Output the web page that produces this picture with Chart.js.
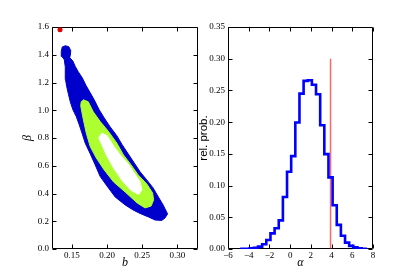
<!DOCTYPE html>
<html>
<head>
<meta charset="utf-8">
<script src="https://cdn.jsdelivr.net/npm/chart.js@4/dist/chart.umd.min.js"></script>
<style>
  body { margin: 0; background: #fff; }
  #wrap { position: relative; width: 415px; height: 277px; overflow: hidden; }
  canvas { position: absolute; top: 0; }
</style>
</head>
<body>
<div id="wrap">
  <canvas id="contornos" width="207" height="277" style="left:0"></canvas>
  <canvas id="histograma" width="225" height="277" style="left:190px"></canvas>
</div>
<script>
// contorno exterior (azul)
const bAzul = [0.1405, 0.1455, 0.1483, 0.1476, 0.1469, 0.1511, 0.1547, 0.1590, 0.1646, 0.1703, 0.1760, 0.1817, 0.1888,
  0.1959, 0.2044, 0.2139, 0.2215, 0.2300, 0.2385, 0.2470, 0.2565, 0.2655, 0.2730, 0.2797, 0.2861, 0.2825, 0.2779,
  0.2683, 0.2588, 0.2470, 0.2371, 0.2257, 0.2115, 0.1997, 0.1902, 0.1831, 0.1760, 0.1689, 0.1642, 0.1604, 0.1561,
  0.1514, 0.1476, 0.1452, 0.1426, 0.1409, 0.1405, 0.1391, 0.1358, 0.1348, 0.1362];
const betaAzul = [1.465, 1.458, 1.429, 1.400, 1.378, 1.357, 1.316, 1.277, 1.234, 1.176, 1.126, 1.075, 1.003,
  0.945, 0.880, 0.816, 0.751, 0.686, 0.621, 0.556, 0.498, 0.440, 0.375, 0.318, 0.253, 0.224, 0.206,
  0.209, 0.231, 0.256, 0.281, 0.318, 0.375, 0.455, 0.522, 0.606, 0.686, 0.763, 0.837, 0.895, 0.955,
  1.003, 1.061, 1.111, 1.169, 1.220, 1.313, 1.364, 1.388, 1.424, 1.456];

// contorno medio (verde)
const bVerde = [0.1665, 0.1732, 0.1803, 0.1902, 0.2020, 0.2139, 0.2233, 0.2342, 0.2442, 0.2565, 0.2648, 0.2662,
  0.2627, 0.2541, 0.2428, 0.2257, 0.2091, 0.1959, 0.1845, 0.1760, 0.1703, 0.1654, 0.1625, 0.1632];
const betaVerde = [1.075, 1.061, 0.989, 0.919, 0.847, 0.763, 0.678, 0.606, 0.534, 0.469, 0.404, 0.354,
  0.310, 0.296, 0.332, 0.411, 0.484, 0.570, 0.657, 0.738, 0.837, 0.953, 1.032, 1.061];

// contorno interior (blanco)
const bBlanco = [0.1926, 0.2002, 0.2101, 0.2200, 0.2300, 0.2385, 0.2470, 0.2494, 0.2449, 0.2342, 0.2215, 0.2091,
  0.1997, 0.1926, 0.1881];
const betaBlanco = [0.834, 0.816, 0.736, 0.671, 0.613, 0.548, 0.484, 0.426, 0.393, 0.422, 0.491, 0.585,
  0.671, 0.751, 0.801];

// punto rojo
const bPunto = [0.133];
const betaPunto = [1.58];

// histograma de alpha
const bordes = [-4.7, -4.3, -3.9, -3.5, -3.1, -2.7, -2.3, -1.9, -1.5, -1.1, -0.7, -0.3, 0.1, 0.5, 0.9, 1.3,
  1.7, 2.1, 2.5, 2.9, 3.3, 3.7, 4.1, 4.5, 4.9, 5.3, 5.7, 6.1, 6.5, 6.9, 7.3];
const alturas = [0.0003, 0.0005, 0.001, 0.002, 0.0037, 0.0074, 0.0142, 0.0247, 0.0326, 0.0452, 0.0819, 0.1218,
  0.1465, 0.1995, 0.245, 0.265, 0.266, 0.259, 0.244, 0.195, 0.1496, 0.113, 0.069, 0.038, 0.021, 0.010,
  0.005, 0.0025, 0.001, 0.0005];
const alphaLinea = [3.9, 3.9];
const probLinea = [0, 0.30];

const fuenteTicks = { family: 'Liberation Serif', size: 9 };

function poligono(xs, ys) {
  const pts = xs.map((x, i) => ({ x: x, y: ys[i] }));
  pts.push(pts[0]);
  return pts;
}

// marco con ticks hacia dentro, estilo matplotlib
const marco = {
  id: 'marco',
  beforeDatasetsDraw(chart) {
    const { ctx, chartArea: a, scales } = chart;
    const L = Math.round(a.left) + 0.5, R = Math.round(a.right) - 0.5;
    const T = Math.round(a.top) + 0.5, B = Math.round(a.bottom) - 0.5;
    ctx.save();
    ctx.strokeStyle = '#000';
    ctx.lineWidth = 1;
    ctx.beginPath();
    ctx.rect(L, T, R - L, B - T);
    scales.x.ticks.forEach(t => {
      const px = Math.round(scales.x.getPixelForValue(t.value)) + 0.5;
      ctx.moveTo(px, B); ctx.lineTo(px, B - 4);
      ctx.moveTo(px, T); ctx.lineTo(px, T + 4);
    });
    scales.y.ticks.forEach(t => {
      const py = Math.round(scales.y.getPixelForValue(t.value)) + 0.5;
      ctx.moveTo(L, py); ctx.lineTo(L + 4, py);
      ctx.moveTo(R, py); ctx.lineTo(R - 4, py);
    });
    ctx.stroke();
    ctx.restore();
  }
};

function eje(cfg) {
  return {
    type: 'linear',
    min: cfg.min,
    max: cfg.max,
    afterFit: cfg.fit,
    grid: { display: false, drawTicks: false },
    border: { display: false },
    ticks: {
      stepSize: cfg.step, includeBounds: false, padding: cfg.pad, font: fuenteTicks, color: '#000',
      maxRotation: 0, autoSkip: false, callback: cfg.fmt
    },
    title: { display: true, text: cfg.titulo, font: cfg.fuente, color: '#000', padding: cfg.tpad }
  };
}

const comunes = {
  responsive: false,
  animation: false,
  devicePixelRatio: 1,
  plugins: { legend: { display: false }, tooltip: { enabled: false } }
};

new Chart(document.getElementById('contornos'), {
  type: 'scatter',
  data: {
    datasets: [
      { data: poligono(bAzul, betaAzul), showLine: true, fill: 'shape', backgroundColor: '#0000cc',
        borderColor: '#0000cc', borderWidth: 1, pointRadius: 0, tension: 0, order: 3 },
      { data: poligono(bVerde, betaVerde), showLine: true, fill: 'shape', backgroundColor: '#adff2f',
        borderColor: '#adff2f', borderWidth: 1, pointRadius: 0, tension: 0, order: 2 },
      { data: poligono(bBlanco, betaBlanco), showLine: true, fill: 'shape', backgroundColor: '#ffffff',
        borderColor: '#ffffff', borderWidth: 1, pointRadius: 0, tension: 0, order: 1 },
      { data: poligono(bPunto, betaPunto).slice(0, 1), showLine: false, pointRadius: 2.5,
        backgroundColor: '#e00000', borderWidth: 0, order: 0 }
    ]
  },
  options: Object.assign({}, comunes, {
    layout: { padding: { top: 27, right: 9, left: 0, bottom: 0 } },
    scales: {
      x: eje({ min: 0.1216, max: 0.3294, step: 0.05, pad: 1, fit: s => { s.height = 28; },
        fmt: v => v.toFixed(2), titulo: 'b',
        fuente: { family: 'Liberation Serif', style: 'italic', size: 12 }, tpad: { top: 0, bottom: 7 } }),
      y: eje({ min: 0, max: 1.6, step: 0.2, pad: 3, fit: s => { s.width = 52; },
        fmt: v => v.toFixed(1), titulo: 'β',
        fuente: { family: 'Liberation Serif', style: 'italic', size: 12 }, tpad: { top: 21, bottom: 0 } })
    }
  }),
  plugins: [marco]
});

const pasos = [{ x: bordes[0], y: 0 }];
alturas.forEach((h, i) => pasos.push({ x: bordes[i], y: h }));
pasos.push({ x: bordes[bordes.length - 1], y: 0 });

new Chart(document.getElementById('histograma'), {
  type: 'scatter',
  data: {
    datasets: [
      { data: pasos, showLine: true, stepped: 'before', borderColor: '#0000ff', borderWidth: 2.6,
        pointRadius: 0, fill: false, order: 0 },
      { data: poligono(alphaLinea, probLinea).slice(0, 2), showLine: true, borderColor: 'rgba(255,0,0,0.6)',
        borderWidth: 1.5, pointRadius: 0, fill: false, order: 1 }
    ]
  },
  options: Object.assign({}, comunes, {
    layout: { padding: { top: 27, right: 42, left: 0, bottom: 0 } },
    scales: {
      x: eje({ min: -6, max: 8, step: 2, pad: 1, fit: s => { s.height = 28; },
        fmt: v => v < 0 ? '\u2212' + Math.abs(v) : String(v), titulo: 'α',
        fuente: { family: 'Liberation Serif', style: 'italic', size: 12 }, tpad: { top: 0, bottom: 7 } }),
      y: eje({ min: 0, max: 0.35, step: 0.05, pad: 3, fit: s => { s.width = 38; },
        fmt: v => v.toFixed(2), titulo: 'rel. prob.',
        fuente: { family: 'Liberation Sans', size: 11.5 }, tpad: { top: 7, bottom: 0 } })
    }
  }),
  plugins: [marco]
});
</script>
</body>
</html>
